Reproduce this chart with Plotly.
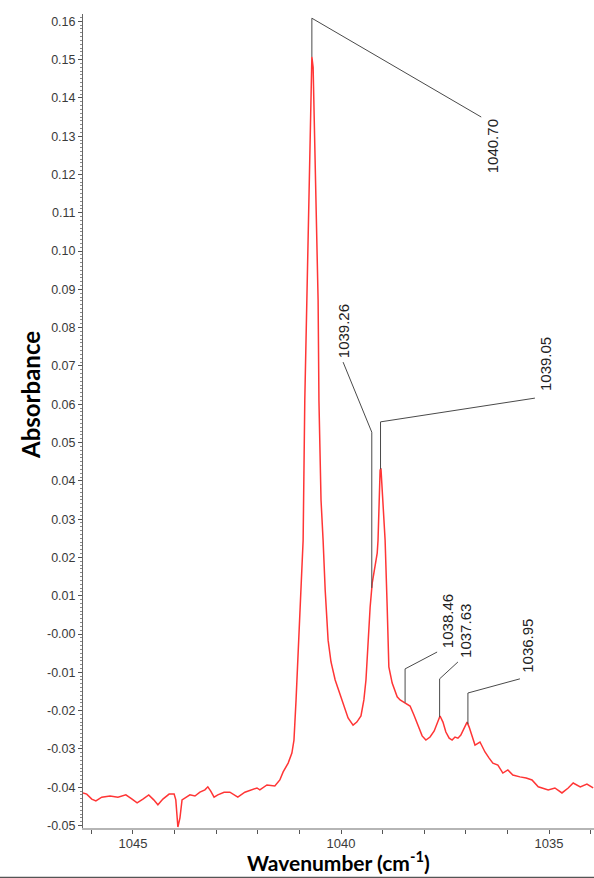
import numpy as np
import plotly.graph_objects as go

# FTIR absorbance spectrum (wavenumber in cm-1, absorbance)
wavenumber = [
    1046.20, 1046.11, 1045.99, 1045.89, 1045.75, 1045.55, 1045.36, 1045.17, 1045.02, 1044.90,
    1044.76, 1044.62, 1044.50, 1044.40, 1044.28, 1044.13, 1044.01, 1043.97, 1043.92, 1043.87,
    1043.82, 1043.73, 1043.63, 1043.51, 1043.39, 1043.27, 1043.20, 1043.13, 1043.05, 1042.96,
    1042.81, 1042.67, 1042.48, 1042.31, 1042.12, 1042.02, 1041.95, 1041.78, 1041.59, 1041.47,
    1041.39, 1041.27, 1041.18, 1041.13, 1041.08, 1041.01, 1040.91, 1040.87, 1040.82, 1040.79,
    1040.77, 1040.75, 1040.72, 1040.70, 1040.67, 1040.65, 1040.63, 1040.60, 1040.58, 1040.55,
    1040.53, 1040.50, 1040.48, 1040.43, 1040.38, 1040.31, 1040.24, 1040.14, 1039.98, 1039.83,
    1039.71, 1039.62, 1039.52, 1039.45, 1039.40, 1039.35, 1039.30, 1039.25, 1039.21, 1039.13,
    1039.11, 1039.08, 1039.06, 1039.04, 1039.00, 1038.94, 1038.89, 1038.85, 1038.77, 1038.65,
    1038.58, 1038.53, 1038.44, 1038.34, 1038.25, 1038.15, 1038.05, 1037.96, 1037.86, 1037.76,
    1037.69, 1037.62, 1037.55, 1037.48, 1037.40, 1037.33, 1037.26, 1037.19, 1037.12, 1037.04,
    1036.97, 1036.92, 1036.85, 1036.78, 1036.66, 1036.54, 1036.44, 1036.35, 1036.23, 1036.11,
    1035.99, 1035.87, 1035.70, 1035.55, 1035.41, 1035.26, 1035.02, 1034.86, 1034.69, 1034.54,
    1034.42, 1034.25, 1034.09, 1033.94,
]
absorbance = [
    -0.0415, -0.0418, -0.0431, -0.0436, -0.0426, -0.0423, -0.0426, -0.0420, -0.0431, -0.0441,
    -0.0431, -0.0420, -0.0433, -0.0446, -0.0431, -0.0418, -0.0418, -0.0433, -0.0504, -0.0480,
    -0.0433, -0.0426, -0.0420, -0.0423, -0.0413, -0.0407, -0.0399, -0.0410, -0.0426, -0.0420,
    -0.0413, -0.0413, -0.0426, -0.0413, -0.0405, -0.0402, -0.0407, -0.0394, -0.0397, -0.0381,
    -0.0360, -0.0337, -0.0311, -0.0277, -0.0172, -0.0016, 0.0245, 0.0611, 0.0872, 0.1000,
    0.1150, 0.1290, 0.1446, 0.1507, 0.1480, 0.1380, 0.1250, 0.1120, 0.0990, 0.0870,
    0.0610, 0.0454, 0.0350, 0.0245, 0.0115, -0.0016, -0.0073, -0.0120, -0.0172, -0.0219,
    -0.0238, -0.0230, -0.0214, -0.0172, -0.0120, -0.0016, 0.0070, 0.0133, 0.0159, 0.0211,
    0.0245, 0.0350, 0.0428, 0.0433, 0.0350, 0.0245, 0.0070, -0.0086, -0.0128, -0.0164,
    -0.0172, -0.0175, -0.0180, -0.0188, -0.0211, -0.0238, -0.0266, -0.0277, -0.0269, -0.0253,
    -0.0235, -0.0214, -0.0230, -0.0256, -0.0272, -0.0277, -0.0269, -0.0272, -0.0264, -0.0245,
    -0.0230, -0.0243, -0.0269, -0.0290, -0.0282, -0.0308, -0.0324, -0.0337, -0.0342, -0.0363,
    -0.0355, -0.0368, -0.0373, -0.0376, -0.0381, -0.0399, -0.0407, -0.0402, -0.0415, -0.0402,
    -0.0389, -0.0399, -0.0392, -0.0402,
]

# Peak picks
peak_positions = [1040.70, 1039.26, 1039.05, 1038.46, 1037.63, 1036.95]
peak_labels = ["1040.70", "1039.26", "1039.05", "1038.46", "1037.63", "1036.95"]

# Y tick values and their printed text
y_tickvals = [0.16, 0.15, 0.14, 0.13, 0.12, 0.11, 0.10, 0.09, 0.08, 0.07, 0.06, 0.05, 0.04,
              0.03, 0.02, 0.01, 0.00, -0.01, -0.02, -0.03, -0.04, -0.05]
y_ticktext = ["0.16", "0.15", "0.14", "0.13", "0.12", "0.11", "0.10", "0.09", "0.08", "0.07",
              "0.06", "0.05", "0.04", "0.03", "0.02", "0.01", "-0.00", "-0.01", "-0.02",
              "-0.03", "-0.04", "-0.05"]

# Leader-line routing for each pick: elbow height, label end point (data units),
# plus the label's pixel nudge and which side of the end point it sits on.
leader_routes = [
    dict(elbow=0.1608, end_x=1036.63, end_y=0.1350, dx=11, dy=0, side="below"),
    dict(elbow=0.0527, end_x=1039.95, end_y=0.0710, dx=0, dy=2, side="above"),
    dict(elbow=0.0554, end_x=1035.34, end_y=0.0616, dx=10, dy=5, side="above"),
    dict(elbow=-0.0091, end_x=1037.69, end_y=-0.0047, dx=10, dy=2, side="above"),
    dict(elbow=-0.0117, end_x=1037.19, end_y=-0.0073, dx=8, dy=2, side="above"),
    dict(elbow=-0.0154, end_x=1035.70, end_y=-0.0117, dx=8, dy=4, side="above"),
]

wn = np.array(wavenumber)
ab = np.array(absorbance)

fig = go.Figure()

fig.add_trace(go.Scatter(
    x=wn, y=ab, mode="lines",
    line=dict(color="#ff3535", width=1.5),
    hoverinfo="skip", showlegend=False,
))

label_font = dict(family="Liberation Sans, Arial, sans-serif", size=15, color="#222222")
title_font = dict(family="Lato, 'Open Sans', sans-serif", size=24, color="#000000")

annotations = []
for pos, text, route in zip(peak_positions, peak_labels, leader_routes):
    base = float(np.interp(pos, wn[::-1], ab[::-1]))
    fig.add_trace(go.Scatter(
        x=[pos, pos, route["end_x"]],
        y=[base, route["elbow"], route["end_y"]],
        mode="lines", line=dict(color="#4a4a4a", width=1),
        hoverinfo="skip", showlegend=False,
    ))
    below = route["side"] == "below"
    annotations.append(dict(
        x=route["end_x"], y=route["end_y"], xref="x", yref="y",
        text=text, showarrow=False, textangle=-90,
        xanchor="center", yanchor="top" if below else "bottom",
        xshift=route["dx"], yshift=-route["dy"] if below else route["dy"],
        font=label_font,
    ))

# y-axis title, set a little above the axis midpoint
annotations.append(dict(
    x=-53 / 511, y=433 / 814, xref="paper", yref="paper",
    text="<b>Absorbance</b>", showarrow=False, textangle=-90,
    xanchor="center", yanchor="middle", font=title_font,
))

# x-axis title, resting on the rule at the foot of the page
annotations.append(dict(
    x=0.5, y=-48 / 814, xref="paper", yref="paper",
    text="<b>Wavenumber (cm<sup>-1</sup>)</b>", showarrow=False,
    xanchor="center", yanchor="bottom", borderpad=0,
    font=dict(family="Lato, 'Open Sans', sans-serif", size=21, color="#000000"),
))

# thin rule along the bottom edge of the page
fig.add_shape(type="line", xref="paper", yref="paper",
              x0=-0.2, x1=1.0, y0=-49.5 / 814, y1=-49.5 / 814,
              line=dict(color="#555555", width=1.5))

tick_font = dict(family="Liberation Sans, Arial, sans-serif", size=12.5, color="#3a3a3a")

fig.update_layout(
    width=594, height=878,
    margin=dict(l=83, r=0, t=14, b=50),
    paper_bgcolor="white", plot_bgcolor="white",
    annotations=annotations,
    xaxis=dict(
        range=[1046.2, 1033.92],
        tickmode="linear", tick0=1035, dtick=5,
        ticks="outside", ticklen=4, tickcolor="#555555", tickwidth=1,
        minor=dict(dtick=1, tick0=1035, ticks="outside", ticklen=4,
                   tickcolor="#555555", tickwidth=1, showgrid=False),
        showline=True, linecolor="#b5b5b5", linewidth=2,
        showgrid=False, zeroline=False,
        ticklabelstandoff=-2,
        tickfont=dict(family="Liberation Sans, Arial, sans-serif", size=13, color="#3a3a3a"),
    ),
    yaxis=dict(
        range=[-0.05065, 0.1619],
        tickmode="array", tickvals=y_tickvals, ticktext=y_ticktext,
        ticks="outside", ticklen=4, tickcolor="#555555", tickwidth=1,
        minor=dict(dtick=0.001, tick0=0, ticks="outside", ticklen=2,
                   tickcolor="#8a8a8a", tickwidth=1, showgrid=False),
        showline=True, linecolor="#666666", linewidth=1,
        showgrid=False, zeroline=False,
        tickfont=tick_font,
    ),
)

fig.write_html("out.html")
